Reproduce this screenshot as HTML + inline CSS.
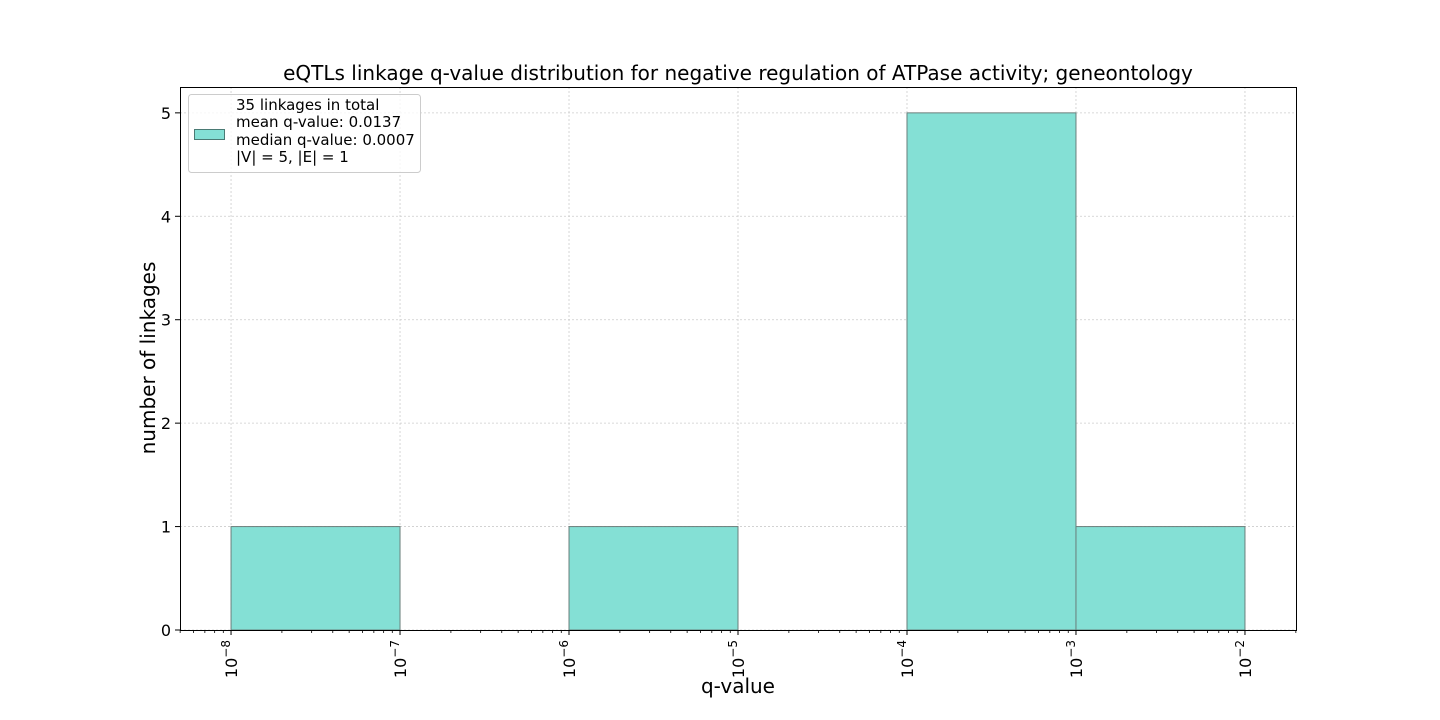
<!DOCTYPE html>
<html><head><meta charset="utf-8"><style>
body{margin:0;background:#fff;}
svg{display:block;font-family:"DejaVu Sans","Liberation Sans",sans-serif;}
</style></head><body>
<svg id="chart" width="1440" height="720">
<text x="738" y="80" text-anchor="middle" font-size="20">eQTLs linkage q-value distribution for negative regulation of ATPase activity; geneontology</text>
<text x="738" y="693" text-anchor="middle" font-size="20">q-value</text>
<text transform="translate(155,358) rotate(-90)" text-anchor="middle" font-size="20">number of linkages</text>
<g id="grid"></g><g id="bars"></g><g id="axes"></g>
<g>
<rect x="188.5" y="94.5" width="232" height="78" rx="3" fill="#fff" fill-opacity="0.8" stroke="#ccc"/>
<rect x="194.5" y="129.5" width="30" height="10" fill="#84e0d5" stroke="#4a7a74"/>
<text font-size="15">
<tspan x="236" y="110">35 linkages in total</tspan>
<tspan x="236" y="127">mean q-value: 0.0137</tspan>
<tspan x="236" y="145">median q-value: 0.0007</tspan>
<tspan x="236" y="162">|V| = 5, |E| = 1</tspan>
</text></g>
</svg>
<script>
const binEdgesExp=[-8,-7,-6,-5,-4,-3,-2];
const counts=[1,0,1,0,5,1];
const yTicks=[0,1,2,3,4,5];
const xTickExp=[-8,-7,-6,-5,-4,-3,-2];
const L=180,R=1296,T=87,B=630,xmin=-8.302,xmax=-1.698,ymax=5.25;
const xs=e=>L+(e-xmin)/(xmax-xmin)*(R-L);
const ys=v=>B-v/ymax*(B-T);
const NS="http://www.w3.org/2000/svg";
function mk(p,t,a){const e=document.createElementNS(NS,t);for(const k in a)e.setAttribute(k,a[k]);p.appendChild(e);return e;}
const grid=document.getElementById('grid'),bars=document.getElementById('bars'),axes=document.getElementById('axes');
xTickExp.forEach(e=>{const l=mk(grid,'line',{x1:xs(e),x2:xs(e),y1:T,y2:B,stroke:'#ccc','stroke-dasharray':'2,2','stroke-width':0.8});

});
yTicks.forEach(v=>{const l=mk(grid,'line',{x1:L,x2:R,y1:ys(v),y2:ys(v),stroke:'#ccc','stroke-dasharray':'2,2','stroke-width':0.8});

});
counts.forEach((c,i)=>{if(c<=0)return;const x0=xs(binEdgesExp[i]),x1=xs(binEdgesExp[i+1]);
const r=mk(bars,'rect',{x:x0,y:ys(c),width:x1-x0,height:ys(0)-ys(c),fill:'#84e0d5',stroke:'#6a7f7c','stroke-width':1});

});
mk(axes,'rect',{x:L+0.5,y:T+0.5,width:R-L,height:B-T,fill:'none',stroke:'#000','stroke-width':1});
yTicks.forEach(v=>{mk(axes,'line',{x1:L-5,x2:L,y1:ys(v),y2:ys(v),stroke:'#000'});
const t=mk(axes,'text',{x:L-9,y:ys(v)+6,'text-anchor':'end','font-size':16});t.textContent=v;

});
for(let d=-9;d<=-2;d++){for(let m=2;m<=9;m++){const e=d+Math.log10(m);if(e<xmin||e>xmax)continue;
mk(axes,'line',{x1:xs(e),x2:xs(e),y1:B,y2:B+3,stroke:'#000','stroke-width':0.8});}}
xTickExp.forEach(e=>{const x=xs(e);mk(axes,'line',{x1:x,x2:x,y1:B,y2:B+5,stroke:'#000'});
const t=mk(axes,'text',{transform:`translate(${x+6},${B+10}) rotate(-90)`,'text-anchor':'end','font-size':16});
const a=mk(t,'tspan',{});a.textContent='10';const b=mk(t,'tspan',{dy:-7,'font-size':12});b.textContent='\u2212'+(-e);

});
</script>
</body></html>
